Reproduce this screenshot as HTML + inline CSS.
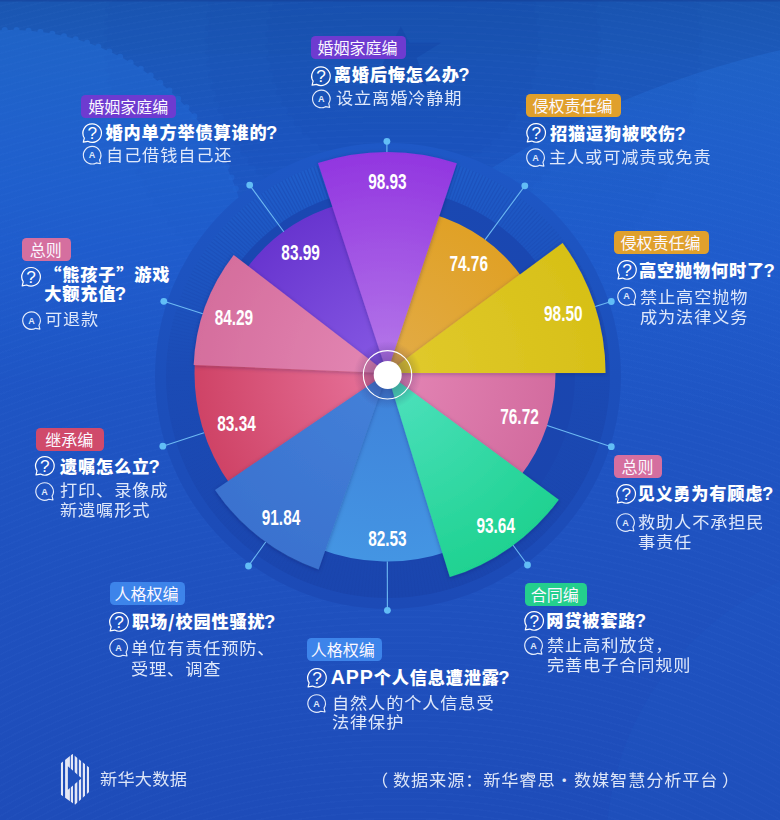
<!DOCTYPE html>
<html lang="zh-CN"><head><meta charset="utf-8"><title>民法典热点关注</title>
<style>
html,body{margin:0;padding:0}
body{width:780px;height:820px;overflow:hidden;background:#1d4cb8;font-family:"Liberation Sans","Noto Sans CJK SC",sans-serif}
#page{position:relative;width:780px;height:820px;overflow:hidden;
 background:
  repeating-radial-gradient(circle at 400px 1500px, rgba(255,255,255,0) 0 5px, rgba(110,160,255,.03) 5px 6.5px),
  linear-gradient(180deg,#1a56b1 0,#1c59ba 60px,#1d58c2 140px,#1e57c7 260px,#1f53c1 60%,#1e4cb9 100%);}
#chart{position:absolute;left:0;top:0}
.tag{position:absolute;height:22.9px;line-height:25.6px;border-radius:4.5px;color:#fbf8ff;font-size:16px;text-align:left;white-space:nowrap;font-weight:400}
.q{position:absolute;color:#fff;font-size:17.2px;letter-spacing:.8px;line-height:20px;font-weight:900;white-space:nowrap}
.a{position:absolute;color:#dfe8fa;font-size:16.4px;letter-spacing:.8px;line-height:20px;font-weight:400;white-space:nowrap;transform:scaleX(1.05);transform-origin:0 0}
.fw{font-family:"Noto Sans CJK SC",sans-serif}
.q .fw{line-height:0}
.app{line-height:0;letter-spacing:.9px;font-weight:700;font-size:19.6px;font-family:"Liberation Sans",sans-serif}
.lq{font-family:"Liberation Sans",sans-serif;font-weight:700;font-size:18.6px;letter-spacing:0;margin-left:-1.4px;line-height:0}
.ft{position:absolute;color:#dde5f7;font-size:16.4px;letter-spacing:.8px;line-height:20px;white-space:nowrap;font-weight:400;top:769.4px;transform:scaleX(1.05);transform-origin:0 0}
</style></head><body>
<div id="page">
<svg id="chart" width="780" height="820" viewBox="0 0 780 820">
<defs>
<symbol id="iq" viewBox="0 0 20 20" width="20" height="20" overflow="visible">
<path d="M10 0.8A9.2 9.2 0 1 1 5.6 18.1L1.2 18.9L2.2 14.9A9.2 9.2 0 0 1 10 0.8Z" fill="none" stroke="#fff" stroke-width="1.2" stroke-linejoin="round"/>
<text x="10" y="15.7" font-family="Liberation Sans,sans-serif" font-size="15.8" fill="#fff" text-anchor="middle" transform="translate(10 0) scale(1.08 1) translate(-10 0)">?</text>
</symbol>
<symbol id="ia" viewBox="0 0 20 20" width="20" height="20" overflow="visible">
<path d="M10 0.8A9.2 9.2 0 1 0 14.4 18.1L18.8 18.9L17.8 14.9A9.2 9.2 0 0 0 10 0.8Z" fill="none" stroke="#e3ebfb" stroke-width="1.2" stroke-linejoin="round"/>
<text x="10" y="13.2" font-family="Liberation Sans,sans-serif" font-size="9.5" font-weight="700" fill="#dfe8fa" text-anchor="middle">A</text>
</symbol>
</defs>
<!-- background decoration -->
<defs>
<linearGradient id="fl" gradientUnits="userSpaceOnUse" x1="0" y1="30" x2="0" y2="400"><stop offset="0" stop-color="#2b80f2"/><stop offset=".4" stop-color="#2b80f2" stop-opacity=".7"/><stop offset="1" stop-color="#2b80f2" stop-opacity="0"/></linearGradient>
<linearGradient id="fr" gradientUnits="userSpaceOnUse" x1="0" y1="50" x2="0" y2="420"><stop offset="0" stop-color="#2b80f2"/><stop offset=".4" stop-color="#2b80f2" stop-opacity=".7"/><stop offset="1" stop-color="#2b80f2" stop-opacity="0"/></linearGradient>
<linearGradient id="fd" gradientUnits="userSpaceOnUse" x1="0" y1="0" x2="0" y2="300"><stop offset="0" stop-color="#123a9e"/><stop offset=".5" stop-color="#123a9e" stop-opacity=".8"/><stop offset="1" stop-color="#123a9e" stop-opacity="0"/></linearGradient>
</defs>
<g opacity=".05" fill="url(#fd)" stroke="url(#fd)" stroke-linecap="round"><circle cx="403" cy="40" r="296" stroke-width="7" stroke-dasharray="0 12"/></g>
<g opacity=".07" fill="url(#fd)" stroke="url(#fd)" stroke-linecap="round"><circle cx="403" cy="40" r="195" stroke-width="7" stroke-dasharray="0 12.01"/></g>
<g opacity=".07" fill="url(#fd)" stroke="url(#fd)" stroke-linecap="round"><circle cx="403" cy="40" r="135" stroke-width="6" stroke-dasharray="0 11.94"/></g>
<g opacity=".28" fill="url(#fl)" stroke="url(#fl)" stroke-linecap="round"><circle cx="10" cy="270" r="240" stroke-width="6" stroke-dasharray="0 11.97"/></g>
<g opacity=".22" fill="url(#fr)"><circle cx="1000" cy="1000" r="975"/></g>
<circle cx="900" cy="850" r="294" fill="#2f8cf5" opacity=".05"/>
<path d="M400.8 26.5L409.5 42.7L441.2 42.7L416.5 58L427 86L400.8 70L374.6 86L385.1 58L361.5 42.7L392.1 42.7Z" fill="#123a9e" opacity=".3"/>
<rect x="0" y="0" width="780" height="1.5" fill="#143c96" opacity=".5"/>
<!-- background rings -->
<defs>
<radialGradient id="cg"><stop offset="0.4" stop-color="#201050" stop-opacity=".28"/><stop offset="0.72" stop-color="#201050" stop-opacity=".16"/><stop offset="1" stop-color="#201050" stop-opacity="0"/></radialGradient>
<linearGradient id="rg1" x1="0" y1="0" x2="0" y2="1"><stop offset="0" stop-color="#1e58c6"/><stop offset=".5" stop-color="#1c4fbb"/><stop offset="1" stop-color="#1c4ab6"/></linearGradient>
<linearGradient id="rg2" x1="0.45" y1="0" x2="0.55" y2="1"><stop offset="0" stop-color="#1f5ecb"/><stop offset="0.22" stop-color="#1d55c1"/><stop offset="0.45" stop-color="#1b4bb5"/><stop offset="1" stop-color="#1a45ae"/></linearGradient>
<linearGradient id="rg3" x1="0" y1="0" x2="0" y2="1"><stop offset="0" stop-color="#1a48b2"/><stop offset="1" stop-color="#1a44ad"/></linearGradient>
<linearGradient id="tk" x1="0.45" y1="0" x2="0.55" y2="1"><stop offset="0" stop-color="#1947b0" stop-opacity=".5"/><stop offset="0.5" stop-color="#1947b0" stop-opacity=".12"/><stop offset="1" stop-color="#163c9e" stop-opacity=".12"/></linearGradient>
</defs>
<circle cx="388" cy="376" r="233" fill="url(#rg1)"/>
<circle cx="388" cy="376" r="222" fill="url(#rg2)"/>
<circle cx="388" cy="376" r="204.5" fill="none" stroke="url(#tk)" stroke-width="35" stroke-dasharray="1.3 1.9"/>
<circle cx="388" cy="376" r="187" fill="url(#rg3)"/>
<defs>
<radialGradient id="g_p2" gradientUnits="userSpaceOnUse" cx="387.0" cy="373.0" r="175"><stop offset="0.1" stop-color="#8456e2"/><stop offset="1" stop-color="#6835cf"/></radialGradient>
<radialGradient id="g_or" gradientUnits="userSpaceOnUse" cx="387.0" cy="373.0" r="165.5"><stop offset="0.1" stop-color="#e2ab45"/><stop offset="1" stop-color="#e0a126"/></radialGradient>
<radialGradient id="g_pk" gradientUnits="userSpaceOnUse" cx="387.0" cy="373.0" r="168.5"><stop offset="0.1" stop-color="#e283b3"/><stop offset="1" stop-color="#d36c9f"/></radialGradient>
<radialGradient id="g_b1" gradientUnits="userSpaceOnUse" cx="387.0" cy="373.0" r="188.5"><stop offset="0.1" stop-color="#3f83da"/><stop offset="1" stop-color="#4495e3"/></radialGradient>
<radialGradient id="g_rd" gradientUnits="userSpaceOnUse" cx="387.0" cy="373.0" r="192.5"><stop offset="0.1" stop-color="#e56f97"/><stop offset="1" stop-color="#cf4366"/></radialGradient>
<radialGradient id="g_p1" gradientUnits="userSpaceOnUse" cx="387.0" cy="373.0" r="221"><stop offset="0.1" stop-color="#b273e8"/><stop offset="1" stop-color="#9236e0"/></radialGradient>
<radialGradient id="g_yl" gradientUnits="userSpaceOnUse" cx="387.0" cy="373.0" r="218.5"><stop offset="0.1" stop-color="#e0c92b"/><stop offset="1" stop-color="#d7c017"/></radialGradient>
<radialGradient id="g_gr" gradientUnits="userSpaceOnUse" cx="387.0" cy="373.0" r="213.5"><stop offset="0.1" stop-color="#4be0bb"/><stop offset="1" stop-color="#1fd291"/></radialGradient>
<radialGradient id="g_b2" gradientUnits="userSpaceOnUse" cx="387.0" cy="373.0" r="208"><stop offset="0.1" stop-color="#4480d8"/><stop offset="1" stop-color="#3a72cf"/></radialGradient>
<radialGradient id="g_pk2" gradientUnits="userSpaceOnUse" cx="387.0" cy="373.0" r="193.5"><stop offset="0.1" stop-color="#e285b2"/><stop offset="1" stop-color="#d56e9d"/></radialGradient>
<filter id="sh" x="-20%" y="-20%" width="140%" height="140%"><feDropShadow dx="0" dy="1" stdDeviation="2" flood-color="#201850" flood-opacity="0.3"/></filter>
</defs>
<path d="M387.0 373.0L245.4 270.1A175 175 0 0 1 335.8 205.6Z" fill="url(#g_p2)"/>
<path d="M387.0 373.0L432.6 213.9A165.5 165.5 0 0 1 522.6 278.1Z" fill="url(#g_or)"/>
<path d="M387.0 373.0L555.5 370.1A168.5 168.5 0 0 1 519.8 476.7Z" fill="url(#g_pk)"/>
<path d="M387.0 373.0L448.4 551.2A188.5 188.5 0 0 1 319.4 549.0Z" fill="url(#g_b1)"/>
<path d="M387.0 373.0L231.3 486.1A192.5 192.5 0 0 1 195.0 359.6Z" fill="url(#g_rd)"/>
<path d="M387.0 373.0L318.0 163.1A221 221 0 0 1 456.8 163.3Z" fill="url(#g_p1)" filter="url(#sh)"/>
<path d="M387.0 373.0L562.6 243.0A218.5 218.5 0 0 1 605.5 373.0Z" fill="url(#g_yl)" filter="url(#sh)"/>
<path d="M387.0 373.0L558.8 499.7A213.5 213.5 0 0 1 449.8 577.1Z" fill="url(#g_gr)" filter="url(#sh)"/>
<path d="M387.0 373.0L318.6 569.4A208 208 0 0 1 215.0 489.9Z" fill="url(#g_b2)" filter="url(#sh)"/>
<path d="M387.0 373.0L193.7 364.9A193.5 193.5 0 0 1 233.7 254.9Z" fill="url(#g_pk2)" filter="url(#sh)"/>
<g stroke="#6db9f3" stroke-width="1.1"><line x1="386.9" y1="141.3" x2="386.9" y2="152.0"/><line x1="524.8" y1="185.8" x2="485.1" y2="239.7"/><line x1="611.3" y1="301.5" x2="595.2" y2="306.6"/><line x1="611.3" y1="446.7" x2="547.1" y2="425.6"/><line x1="527.5" y1="565.0" x2="513.1" y2="545.3"/><line x1="387.4" y1="610.3" x2="387.3" y2="561.5"/><line x1="248.5" y1="566.0" x2="265.7" y2="542.0"/><line x1="162.8" y1="446.2" x2="204.0" y2="432.7"/><line x1="163.8" y1="301.3" x2="202.8" y2="313.8"/><line x1="249.7" y1="185.1" x2="283.8" y2="231.7"/></g>
<g fill="#62bdf6"><circle cx="386.9" cy="141.3" r="3.4"/><circle cx="524.8" cy="185.8" r="3.4"/><circle cx="611.3" cy="301.5" r="3.4"/><circle cx="611.3" cy="446.7" r="3.4"/><circle cx="527.5" cy="565.0" r="3.4"/><circle cx="387.4" cy="610.3" r="3.4"/><circle cx="248.5" cy="566.0" r="3.4"/><circle cx="162.8" cy="446.2" r="3.4"/><circle cx="163.8" cy="301.3" r="3.4"/><circle cx="249.7" cy="185.1" r="3.4"/></g>
<circle cx="387.5" cy="375" r="34" fill="url(#cg)"/>
<circle cx="387.5" cy="374.8" r="24.2" fill="none" stroke="#fff" stroke-width="1.1"/>
<circle cx="387.7" cy="375" r="14" fill="#fff"/>
<g font-family="Liberation Sans,sans-serif" font-weight="700" font-size="22.4" fill="#fff" text-anchor="middle">
<text x="387.4" y="188.5" textLength="38.5" lengthAdjust="spacingAndGlyphs">98.93</text><text x="468.7" y="271.2" textLength="38.5" lengthAdjust="spacingAndGlyphs">74.76</text><text x="563.3" y="321.3" textLength="38.5" lengthAdjust="spacingAndGlyphs">98.50</text><text x="519.5" y="423.9" textLength="38.5" lengthAdjust="spacingAndGlyphs">76.72</text><text x="495.7" y="533.2" textLength="38.5" lengthAdjust="spacingAndGlyphs">93.64</text><text x="387.4" y="546.0" textLength="38.5" lengthAdjust="spacingAndGlyphs">82.53</text><text x="281.0" y="525.3" textLength="38.5" lengthAdjust="spacingAndGlyphs">91.84</text><text x="236.5" y="430.7" textLength="38.5" lengthAdjust="spacingAndGlyphs">83.34</text><text x="233.9" y="324.9" textLength="38.5" lengthAdjust="spacingAndGlyphs">84.29</text><text x="300.6" y="260.0" textLength="38.5" lengthAdjust="spacingAndGlyphs">83.99</text>
</g>
<use href="#iq" x="310.90" y="66.10" width="20.2" height="20.2"/><use href="#ia" x="311.75" y="89.35" width="19.1" height="19.1"/><use href="#iq" x="82.10" y="123.00" width="20.2" height="20.2"/><use href="#ia" x="82.55" y="145.65" width="19.1" height="19.1"/><use href="#iq" x="21.00" y="266.70" width="20.2" height="20.2"/><use href="#ia" x="21.95" y="311.05" width="19.1" height="19.1"/><use href="#iq" x="34.80" y="455.80" width="20.2" height="20.2"/><use href="#ia" x="35.05" y="481.95" width="19.1" height="19.1"/><use href="#iq" x="108.95" y="611.80" width="20.2" height="20.2"/><use href="#ia" x="109.05" y="637.95" width="19.1" height="19.1"/><use href="#iq" x="306.90" y="667.80" width="20.2" height="20.2"/><use href="#ia" x="307.05" y="693.95" width="19.1" height="19.1"/><use href="#iq" x="524.10" y="610.80" width="20.2" height="20.2"/><use href="#ia" x="523.95" y="636.05" width="19.1" height="19.1"/><use href="#iq" x="616.10" y="483.80" width="20.2" height="20.2"/><use href="#ia" x="615.95" y="512.95" width="19.1" height="19.1"/><use href="#iq" x="616.90" y="259.80" width="20.2" height="20.2"/><use href="#ia" x="617.05" y="286.85" width="19.1" height="19.1"/><use href="#iq" x="526.10" y="122.80" width="20.2" height="20.2"/><use href="#ia" x="525.95" y="148.05" width="19.1" height="19.1"/>
<!-- logo -->
<g id="logo" transform="translate(60.5,754)">
<clipPath id="hex"><path d="M12 0L28.6 13.5L28.6 38L14.5 50.8L0 40.5L0 9.4Z"/></clipPath>
<g clip-path="url(#hex)" fill="#e4e7f6">
<rect x="0.3" y="0" width="2.2" height="51"/><rect x="4.6" y="0" width="4.8" height="51"/><rect x="10.3" y="0" width="2.2" height="51"/>
<rect x="14.2" y="0" width="2.6" height="51"/><rect x="18.4" y="0" width="2.2" height="51"/><rect x="22.3" y="0" width="2.2" height="51"/><rect x="26.4" y="0" width="2.2" height="51"/>
</g>
<path d="M7.4 12.3L21.1 24.3L7.4 35.8Z" fill="#2050bc"/>
</g>
</svg>
<div class="tag" style="left:310.9px;top:35.8px;width:88.80px;padding-left:6.60px;background:#6e3bd0">婚姻家庭编</div><div class="q" id="q0" style="left:333.80px;top:65.45px;line-height:20px;letter-spacing:0.80px">离婚后悔怎么办<span class="lq">?</span></div><div class="a" id="a0" style="left:336.10px;top:88.00px;line-height:20px;letter-spacing:0.80px">设立离婚冷静期</div><div class="tag" style="left:80.9px;top:94.8px;width:88.00px;padding-left:7.40px;background:#6e3bd0">婚姻家庭编</div><div class="q" id="q1" style="left:105.60px;top:123.15px;line-height:20px;letter-spacing:0.80px">婚内单方举债算谁的<span class="lq">?</span></div><div class="a" id="a1" style="left:105.50px;top:145.00px;line-height:20px;letter-spacing:0.80px">自己借钱自己还</div><div class="tag" style="left:22.05px;top:238.2px;width:41.70px;padding-left:7.70px;background:#d56f9f">总则</div><div class="q" id="q2" style="left:44.20px;top:266.10px;line-height:19.3px;letter-spacing:0.80px"><span class="fw">“</span>熊孩子<span class="fw">”</span>游戏<br>大额充值<span class="lq">?</span></div><div class="a" id="a2" style="left:45.00px;top:308.80px;line-height:20px;letter-spacing:0.80px">可退款</div><div class="tag" style="left:35.9px;top:428.2px;width:58.70px;padding-left:9.40px;background:#d04a6b">继承编</div><div class="q" id="q3" style="left:60.00px;top:456.65px;line-height:20px;letter-spacing:0.80px">遗嘱怎么立<span class="lq">?</span></div><div class="a" id="a3" style="left:60.00px;top:480.85px;line-height:19.7px;letter-spacing:0.80px">打印、录像成<br>新遗嘱形式</div><div class="tag" style="left:109.9px;top:582.2px;width:70.70px;padding-left:4.50px;background:#3d84ea">人格权编</div><div class="q" id="q4" style="left:132.10px;top:612.45px;line-height:20px;letter-spacing:0.80px">职场<span class="fw">/</span>校园性骚扰<span class="lq">?</span></div><div class="a" id="a4" style="left:130.80px;top:638.20px;line-height:20.4px;letter-spacing:0.80px">单位有责任预防、<br>受理、调查</div><div class="tag" style="left:307.05px;top:638.2px;width:71.30px;padding-left:3.70px;background:#3d84ea">人格权编</div><div class="q" id="q5" style="left:330.80px;top:668.15px;line-height:20px;letter-spacing:0.80px"><span class="app">APP</span>个人信息遭泄露<span class="lq">?</span></div><div class="a" id="a5" style="left:332.00px;top:693.50px;line-height:19.8px;letter-spacing:0.80px">自然人的个人信息受<br>法律保护</div><div class="tag" style="left:525.05px;top:583.2px;width:56.20px;padding-left:5.80px;background:#24cf8d">合同编</div><div class="q" id="q6" style="left:546.20px;top:611.05px;line-height:20px;letter-spacing:0.80px">网贷被套路<span class="lq">?</span></div><div class="a" id="a6" style="left:547.20px;top:635.40px;line-height:20px;letter-spacing:0.80px">禁止高利放贷，<br>完善电子合同规则</div><div class="tag" style="left:613.9px;top:455.2px;width:40.70px;padding-left:7.70px;background:#d56f9f">总则</div><div class="q" id="q7" style="left:637.40px;top:484.15px;line-height:20px;letter-spacing:0.80px">见义勇为有顾虑<span class="lq">?</span></div><div class="a" id="a7" style="left:638.00px;top:511.60px;line-height:20px;letter-spacing:0.80px">救助人不承担民<br>事责任</div><div class="tag" style="left:613.9px;top:230.8px;width:88.80px;padding-left:6.60px;background:#e0a02c">侵权责任编</div><div class="q" id="q8" style="left:639.00px;top:260.65px;line-height:20px;letter-spacing:0.80px">高空抛物何时了<span class="lq">?</span></div><div class="a" id="a8" style="left:640.00px;top:287.15px;line-height:20.3px;letter-spacing:0.80px">禁止高空抛物<br>成为法律义务</div><div class="tag" style="left:525.9px;top:93.8px;width:88.80px;padding-left:6.60px;background:#e0a02c">侵权责任编</div><div class="q" id="q9" style="left:550.00px;top:124.45px;line-height:20px;letter-spacing:0.80px">招猫逗狗被咬伤<span class="lq">?</span></div><div class="a" id="a9" style="left:549.20px;top:147.10px;line-height:20px;letter-spacing:0.80px">主人或可减责或免责</div>
<div class="ft" style="left:100px;letter-spacing:.2px">新华大数据</div>
<div class="ft fw" id="lp" style="left:370.5px">（</div>
<div class="ft fw" style="left:393px">数据来源：新华睿思</div>
<div class="ft fw" style="left:556px;width:16.4px;text-align:center;letter-spacing:0;transform:none">·</div>
<div class="ft fw" style="left:573.8px">数媒智慧分析平台</div>
<div class="ft fw" id="rp" style="left:722px">）</div>
</div>
</body></html>
